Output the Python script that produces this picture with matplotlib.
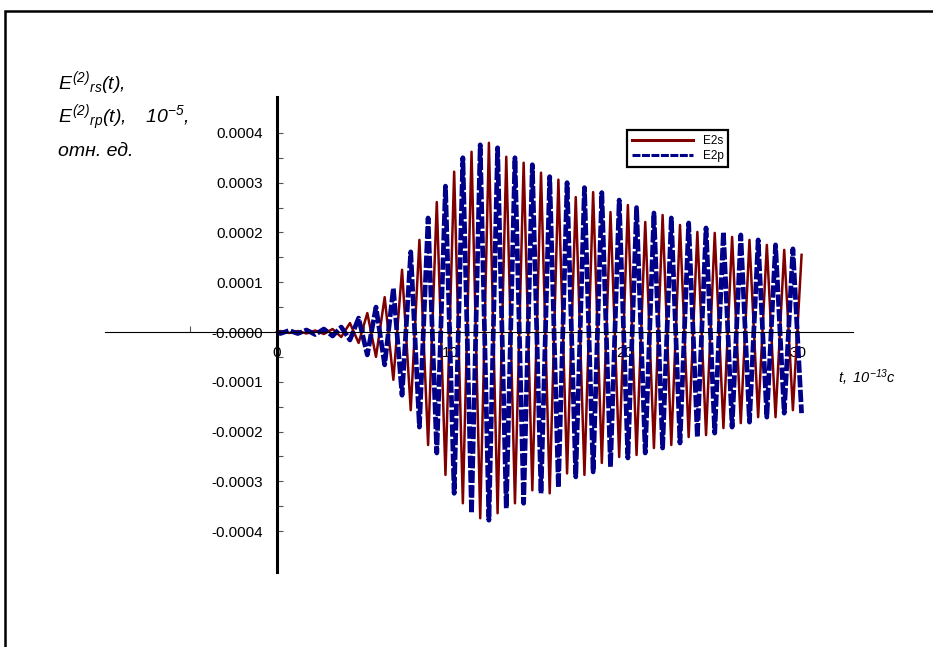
import numpy as np
import matplotlib.pyplot as plt
from matplotlib.patches import Rectangle

plt.rcParams['font.family'] = ['Liberation Sans', 'DejaVu Sans']
plt.rcParams['mathtext.fontset'] = 'custom'
plt.rcParams['mathtext.rm'] = 'Liberation Sans:italic'
plt.rcParams['mathtext.it'] = 'Liberation Sans:italic'

t = np.concatenate([[0.0], 0.2 + 0.5 * np.arange(61)])

e2s = [0.0,
       0.000002, -0.000002, 0.000002, -0.000003, 0.000003, -0.000004, 0.000006, -0.000010,
       0.000018, -0.000022, 0.000038, -0.000050, 0.000070, -0.000096, 0.000125, -0.000157,
       0.000185, -0.000227, 0.000261, -0.000287, 0.000322, -0.000344, 0.000362, -0.000374,
       0.000380, -0.000364, 0.000352, -0.000344, 0.000340, -0.000318, 0.000320, -0.000324,
       0.000306, -0.000284, 0.000271, -0.000287, 0.000281, -0.000263, 0.000241, -0.000251,
       0.000255, -0.000247, 0.000221, -0.000233, 0.000235, -0.000227, 0.000215, -0.000211,
       0.000201, -0.000207, 0.000199, -0.000193, 0.000191, -0.000183, 0.000185, -0.000171,
       0.000175, -0.000171, 0.000165, -0.000157, 0.000155]

e2p = [0.0,
       -0.000003, 0.000003, -0.000003, 0.000004, -0.000005, 0.000006, -0.000008, 0.000010,
       -0.000016, 0.000028, -0.000046, 0.000050, -0.000066, 0.000088, -0.000127, 0.000161,
       -0.000191, 0.000229, -0.000243, 0.000293, -0.000324, 0.000350, -0.000364, 0.000376,
       -0.000378, 0.000370, -0.000354, 0.000350, -0.000344, 0.000336, -0.000324, 0.000312,
       -0.000312, 0.000300, -0.000291, 0.000290, -0.000281, 0.000280, -0.000271, 0.000265,
       -0.000253, 0.000250, -0.000243, 0.000239, -0.000233, 0.000229, -0.000223, 0.000219,
       -0.000211, 0.000209, -0.000203, 0.000201, -0.000191, 0.000195, -0.000181, 0.000185,
       -0.000171, 0.000175, -0.000163, 0.000167, -0.000163]

y_ticks = [0.0004, 0.0003, 0.0002, 0.0001, 0.0, -0.0001, -0.0002, -0.0003, -0.0004]
y_labels = ['0.0004', '0.0003', '0.0002', '0.0001', '-0.0000',
            '-0.0001', '-0.0002', '-0.0003', '-0.0004']
x_ticks = [0, 10, 20, 30]

fig = plt.figure(figsize=(9.33, 6.47), dpi=100)
ax = fig.add_axes([105 / 933, 75 / 647, 748 / 933, 475 / 647])

ax.plot(t, e2s, color='#800000', lw=1.8, label='E2s')
ax.plot(t, e2p, color='#000088', lw=3.4, dashes=(2.6, 0.5), label='E2p')

ax.set_xlim(-9.9, 33.16)
ax.set_ylim(-0.000482, 0.000472)

for s in ['top', 'right']:
    ax.spines[s].set_visible(False)
ax.spines['left'].set_position(('data', 0))
ax.spines['left'].set_linewidth(2.2)
ax.spines['bottom'].set_position(('data', 0))
ax.spines['bottom'].set_linewidth(0.8)

ax.set_xticks(x_ticks)
ax.set_xticklabels([str(v) for v in x_ticks])
ax.set_xticks([-5, 5, 15, 25], minor=True)
ax.set_yticks(y_ticks)
ax.set_yticklabels(y_labels)
ax.set_yticks([0.00035, 0.00025, 0.00015, 0.00005, -0.00005, -0.00015, -0.00025, -0.00035],
              minor=True)
ax.tick_params(axis='both', which='both', direction='in', length=4, width=0.8,
               color='#555555', labelsize=11, pad=10)

leg = ax.legend(loc='upper left', bbox_to_anchor=(627 / 933, 1 - 130 / 647),
                bbox_transform=fig.transFigure, fontsize=8.5, fancybox=False,
                edgecolor='black', framealpha=1, handlelength=5.2, borderaxespad=0,
                borderpad=0.4, labelspacing=0.3, handletextpad=0.8)
leg.get_frame().set_linewidth(1.6)
for h in leg.get_lines():
    h.set_linewidth(2.2)

fig.text(58 / 933, 1 - 89 / 647, r"$E^{(2)}{}_{rs}(t),$", fontsize=14, va='baseline')
fig.text(58 / 933, 1 - 123 / 647, r"$E^{(2)}{}_{rp}(t),\ \ \ 10^{-5},$", fontsize=14, va='baseline')
fig.text(58 / 933, 1 - 156 / 647, "отн. ед.", fontsize=14, style='italic', va='baseline')
fig.text(838 / 933, 1 - 383 / 647, r"$t,\ 10^{-13}$с", fontsize=10.5, style='italic',
         va='baseline')

# frame round the whole picture
fig.add_artist(Rectangle((5 / 933, -0.5), 2, 0.5 + 1 - 11 / 647, transform=fig.transFigure,
                         fill=False, lw=1.8, edgecolor='black'))

fig.savefig('out.png', dpi=100)
